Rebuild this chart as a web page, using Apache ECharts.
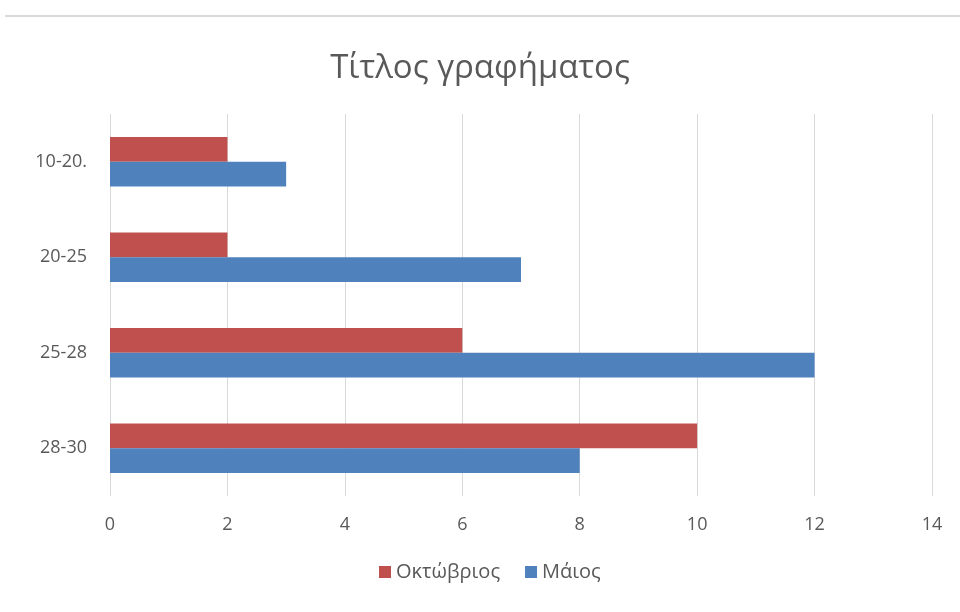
<!DOCTYPE html>
<html>
<head>
<meta charset="utf-8">
<script src="https://cdn.jsdelivr.net/npm/echarts@6/dist/echarts.min.js"></script>
<style>
  html, body { margin: 0; padding: 0; background: #fff; }
  #chart { width: 960px; height: 612px; }
</style>
</head>
<body>
<div id="chart"></div>
<script>
// Age ranges shown on the vertical axis (top to bottom)
const categories = ['10-20.', '20-25', '25-28', '28-30'];
// Counts per month
const octoberValues = [2, 2, 6, 10];
const mayValues = [3, 7, 12, 8];
const seriesNames = ['Οκτώβριος', 'Μάιος'];
const axisTicks = [0, 2, 4, 6, 8, 10, 12, 14];

const font = '"Open Sans", "Noto Sans", sans-serif';
const textColor = '#595959';

const chart = echarts.init(document.getElementById('chart'), null, { renderer: 'canvas' });
chart.setOption({
  animation: false,
  backgroundColor: '#ffffff',
  title: {
    text: 'Τίτλος γραφήματος',
    left: 'center',
    top: 47,
    textStyle: { fontFamily: font, fontSize: 33, fontWeight: 'normal', color: textColor }
  },
  graphic: [{
    type: 'line',
    shape: { x1: 5, y1: 16, x2: 960, y2: 16 },
    style: { stroke: '#d9d9d9', lineWidth: 2 }
  }],
  legend: {
    data: seriesNames,
    bottom: 25,
    left: 374,
    itemWidth: 12,
    itemHeight: 12,
    itemGap: 25,
    icon: 'rect',
    textStyle: { fontFamily: font, fontSize: 20, color: textColor }
  },
  grid: { left: 110, right: 28, top: 114, bottom: 116, containLabel: false },
  xAxis: {
    type: 'value',
    min: axisTicks[0],
    max: axisTicks[axisTicks.length - 1],
    interval: axisTicks[1] - axisTicks[0],
    axisLine: { show: false },
    axisTick: { show: false },
    splitLine: { show: true, lineStyle: { color: '#d9d9d9', width: 1 } },
    axisLabel: { fontFamily: font, fontSize: 18, color: textColor, margin: 20 }
  },
  yAxis: {
    type: 'category',
    data: categories,
    inverse: true,
    axisLine: { show: false },
    axisTick: { show: false },
    splitLine: { show: false },
    axisLabel: { fontFamily: font, fontSize: 18, color: textColor, margin: 23 }
  },
  series: [
    {
      name: seriesNames[0],
      type: 'bar',
      data: octoberValues,
      itemStyle: { color: '#c0504d' },
      barGap: '0%',
      barCategoryGap: '48%'
    },
    {
      name: seriesNames[1],
      type: 'bar',
      data: mayValues,
      itemStyle: { color: '#4f81bd' },
      barGap: '0%',
      barCategoryGap: '48%'
    }
  ]
});
</script>
</body>
</html>
